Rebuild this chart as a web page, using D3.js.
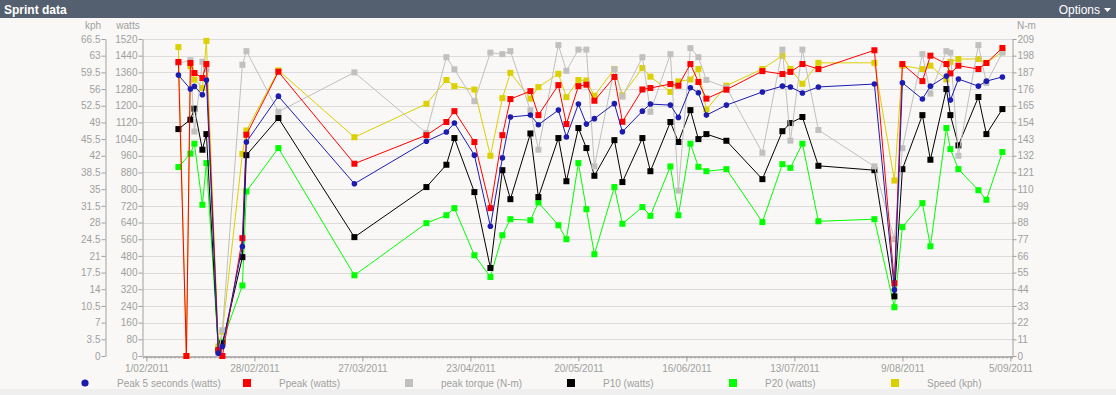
<!DOCTYPE html>
<html>
<head>
<meta charset="utf-8">
<script src="https://cdn.jsdelivr.net/npm/d3@7"></script>
<style>
  body { margin: 0; background: #f9f8f6; overflow: hidden; }
</style>
</head>
<body>
<div id="chart"></div>
<script>
// ############################################################################
// Sprint data                                                     Line chart
// ############################################################################

// ============================================================================
// Data
// ============================================================================

const dates = [
  "2011-02-09", "2011-02-11", "2011-02-12", "2011-02-13", "2011-02-15",
  "2011-02-16", "2011-02-19", "2011-02-20", "2011-02-25", "2011-02-26",
  "2011-03-06", "2011-03-25", "2011-04-12", "2011-04-17", "2011-04-19",
  "2011-04-24", "2011-04-28", "2011-05-01", "2011-05-03", "2011-05-08",
  "2011-05-10", "2011-05-15", "2011-05-17", "2011-05-20", "2011-05-22",
  "2011-05-24", "2011-05-29", "2011-05-31", "2011-06-05", "2011-06-07",
  "2011-06-12", "2011-06-14", "2011-06-17", "2011-06-19", "2011-06-21",
  "2011-06-26", "2011-07-05", "2011-07-10", "2011-07-12", "2011-07-15",
  "2011-07-19", "2011-08-02", "2011-08-07", "2011-08-09", "2011-08-14",
  "2011-08-16", "2011-08-20", "2011-08-21", "2011-08-23", "2011-08-28",
  "2011-08-30", "2011-09-03"
]

// watts
const peak5 = [
  1347, null, 1280, 1293, 1253, 1323, 13, 45, 525, 1026,
  1246, 826, 1030, 1074, 1117, 963, 622, 950, 1146, 1155,
  1109, 1179, 1050, 1208, 1112, 1138, 1210, 1075, 1174, 1208,
  1203, 1144, 1286, 1262, 1155, 1203, 1266, 1294, 1290, 1261,
  1290, 1304, 317, 1310, 1232, 1294, 1342, 1227, 1328, 1294,
  1318, 1338
]

// watts
const ppeak = [
  1410, 0, 1405, 1357, 1333, 1400, 29, 0, 565, 1061,
  1363, 922, 1059, 1122, 1174, 1026, 709, 1059, 1232, 1270,
  1155, 1299, 1112, 1294, 1301, 1224, 1338, 1123, 1278, 1285,
  1304, 1296, 1400, 1314, 1234, 1277, 1366, 1352, 1362, 1400,
  1376, 1466, 349, 1400, 1318, 1440, 1400, 1355, 1392, 1376,
  1405, 1477
]

// N-m
const peakTorque = [
  193, null, 195, 148, 194, 189, 1, 17, 192, 201,
  161, 187, 147, 197, 189, 168, 200, 199, 201, 162,
  136, 205, 188, 202, 202, 125, 189, 171, 197, 161,
  199, 109, 203, 197, 182, 177, 134, 202, 142, 202,
  149, 125, 77, 137, 199, 173, 201, 200, 132, 205,
  180, 200
]

// watts
const p10 = [
  1088, null, 1133, 1186, 989, 1064, 21, 61, 474, 963,
  1141, 570, 810, 917, 1045, 786, 422, 891, 752, 1067,
  762, 1045, 838, 1093, 997, 864, 1035, 834, 1045, 886,
  1122, 1026, 1179, 1040, 1064, 1032, 848, 1078, 1117, 1146,
  912, 891, 286, 896, 1155, 941, 1280, 1155, 1010, 1242,
  1064, 1184
]

// watts
const p20 = [
  906, null, 970, 1018, 725, 925, 29, 69, 338, 789,
  997, 387, 637, 675, 709, 483, 379, 579, 656, 651,
  736, 627, 560, 925, 704, 488, 810, 634, 714, 672,
  909, 675, 1018, 907, 886, 896, 642, 920, 902, 1018,
  646, 656, 234, 618, 733, 526, 1093, 992, 896, 795,
  749, 978
]

// kph
const speed = [
  64.8, 0, 60.8, 58.0, 56.2, 66.1, 2.0, 5.1, 42.4, 47.3,
  59.9, 45.9, 52.9, 57.9, 56.6, 55.9, 42.0, 54.1, 59.4, 54.0,
  56.4, 59.2, 54.3, 57.9, 57.8, 54.6, 60.2, 54.7, 60.4, 58.6,
  55.4, 57.6, 58.0, 60.2, 51.7, 56.7, 60.2, 63.0, 60.2, 57.1,
  61.5, 61.5, 36.8, 60.9, 60.2, 60.9, 58.0, 61.7, 62.3, 62.3,
  61.5, 63.8
]

const seriesNames = [
  "Peak 5 seconds (watts)", "Ppeak (watts)", "peak torque (N-m)",
  "P10 (watts)", "P20 (watts)", "Speed (kph)"
]

// Tick labels
const xTickDates = [
  "2011-02-01", "2011-02-28", "2011-03-27", "2011-04-23", "2011-05-20",
  "2011-06-16", "2011-07-13", "2011-08-09", "2011-09-05"
]
const kphTicks = [
  0, 3.5, 7, 10.5, 14, 17.5, 21, 24.5, 28, 31.5,
  35, 38.5, 42, 45.5, 49, 52.5, 56, 59.5, 63, 66.5
]
const wattTicks = [
  0, 80, 160, 240, 320, 400, 480, 560, 640, 720,
  800, 880, 960, 1040, 1120, 1200, 1280, 1360, 1440, 1520
]
const torqueTicks = [
  0, 11, 22, 33, 44, 55, 66, 77, 88, 99,
  110, 121, 132, 143, 154, 165, 176, 187, 198, 209
]


class SprintChart
{
  // ==========================================================================
  // Construct chart
  // ==========================================================================

  constructor(containerId)
  {
    this._width  = 1116
    this._height = 395

    this._plot = { left: 143, right: 1012, top: 39, bottom: 356 }

    this._font = "'Liberation Sans', Arial, sans-serif"
    this._axisColor = "#a0a0a0"

    let parse = d3.timeParse("%Y-%m-%d")
    this._dates = dates.map(parse)
    this._tickDates = xTickDates.map(parse)

    this._setupScales()
    this._setupContainer(containerId)
    this._drawTitleBar()
    this._drawGrid()
    this._drawAxes()
    this._drawSeries()
    this._drawLegend()
  }


  // ==========================================================================
  // Scales
  // ==========================================================================

  _setupScales()
  {
    let p = this._plot

    this._x = d3.scaleTime()
      .domain([new Date(2011, 0, 31, 3, 36), new Date(2011, 8, 5, 9, 36)])
      .range([p.left, p.right])

    this._yWatts = d3.scaleLinear().domain([0, 1520]).range([p.bottom, p.top])
    this._yKph   = d3.scaleLinear().domain([0, 66.5]).range([p.bottom, p.top])
    this._yNm    = d3.scaleLinear().domain([0, 209]).range([p.bottom, p.top])

    this._series = [
      { name: seriesNames[0], values: peak5,      color: "#1c1cb0", y: this._yWatts, symbol: "circle" },
      { name: seriesNames[1], values: ppeak,      color: "#ff0000", y: this._yWatts, symbol: "square" },
      { name: seriesNames[2], values: peakTorque, color: "#c0c0c0", y: this._yNm,    symbol: "square" },
      { name: seriesNames[3], values: p10,        color: "#000000", y: this._yWatts, symbol: "square" },
      { name: seriesNames[4], values: p20,        color: "#00ff00", y: this._yWatts, symbol: "square" },
      { name: seriesNames[5], values: speed,      color: "#dcd000", y: this._yKph,   symbol: "square" }
    ]
  }


  // ==========================================================================
  // Setup container
  // ==========================================================================

  _setupContainer(containerId)
  {
    this._svg = d3.select("#" + containerId)
      .append("svg")
      .attr("width",  this._width)
      .attr("height", this._height)
      .style("display", "block")
      .style("font-family", this._font)
      .style("font-size", "10px")

    this._svg.append("rect")
      .attr("width", this._width)
      .attr("height", this._height)
      .attr("fill", "#f9f8f6")

    // bottom strip
    this._svg.append("rect")
      .attr("y", 389)
      .attr("width", this._width)
      .attr("height", this._height - 389)
      .attr("fill", "#efefef")
  }


  // ==========================================================================
  // Title bar
  // ==========================================================================

  _drawTitleBar()
  {
    this._svg.append("rect")
      .attr("width", this._width)
      .attr("height", 18)
      .attr("fill", "#545f6f")

    this._svg.append("text")
      .attr("x", 4)
      .attr("y", 14)
      .attr("fill", "#ffffff")
      .style("font-size", "12px")
      .style("font-weight", "bold")
      .text("Sprint data")

    this._svg.append("text")
      .attr("x", 1100)
      .attr("y", 14)
      .attr("text-anchor", "end")
      .attr("fill", "#ffffff")
      .style("font-size", "12px")
      .text("Options")

    this._svg.append("path")
      .attr("d", "M1104,8 L1111,8 L1107.5,12 Z")
      .attr("fill", "#ffffff")
  }


  // ==========================================================================
  // Horizontal grid
  // ==========================================================================

  _drawGrid()
  {
    let p = this._plot
    this._svg.append("g")
      .selectAll("line")
      .data(wattTicks.filter(d => d > 0))
      .join("line")
      .attr("x1", p.left)
      .attr("x2", p.right)
      .attr("y1", d => Math.round(this._yWatts(d)) + 0.5)
      .attr("y2", d => Math.round(this._yWatts(d)) + 0.5)
      .attr("stroke", "#dcdcdc")
  }


  // ==========================================================================
  // Axes
  // ==========================================================================

  _styleAxis(g)
  {
    g.attr("color", this._axisColor)
      .attr("font-family", this._font)
      .attr("font-size", 10)
  }

  _drawAxes()
  {
    let p = this._plot
    let fmt = d3.timeFormat("%-d/%m/%Y")

    // minor day ticks
    this._svg.append("g")
      .attr("transform", `translate(0,${p.bottom + 0.5})`)
      .call(d3.axisBottom(this._x).ticks(d3.timeDay.every(1)).tickSize(2).tickFormat(""))
      .call(g => this._styleAxis(g))

    // major ticks
    this._svg.append("g")
      .attr("transform", `translate(0,${p.bottom + 0.5})`)
      .call(d3.axisBottom(this._x)
        .tickValues(this._tickDates)
        .tickFormat(fmt)
        .tickSize(5)
        .tickPadding(3)
        .tickSizeOuter(0))
      .call(g => this._styleAxis(g))

    // kph
    this._svg.append("g")
      .attr("transform", `translate(${105.5},0)`)
      .call(d3.axisLeft(this._yKph)
        .tickValues(kphTicks)
        .tickFormat(d => String(d))
        .tickSize(4)
        .tickPadding(1)
        .tickSizeOuter(0))
      .call(g => this._styleAxis(g))

    // watts
    this._svg.append("g")
      .attr("transform", `translate(${p.left - 0.5},0)`)
      .call(d3.axisLeft(this._yWatts)
        .tickValues(wattTicks)
        .tickFormat(d => String(d))
        .tickSize(4)
        .tickPadding(1)
        .tickSizeOuter(0))
      .call(g => this._styleAxis(g))

    // N-m
    this._svg.append("g")
      .attr("transform", `translate(${p.right + 0.5},0)`)
      .call(d3.axisRight(this._yNm)
        .tickValues(torqueTicks)
        .tickFormat(d => String(d))
        .tickSize(4)
        .tickPadding(1)
        .tickSizeOuter(0))
      .call(g => this._styleAxis(g))

    // Axis titles
    let titles = [
      { text: "kph",   x: 93,   anchor: "middle" },
      { text: "watts", x: 128,  anchor: "middle" },
      { text: "N-m",   x: 1017, anchor: "start" }
    ]
    this._svg.append("g")
      .selectAll("text")
      .data(titles)
      .join("text")
      .attr("x", d => d.x)
      .attr("y", 29)
      .attr("text-anchor", d => d.anchor)
      .attr("fill", this._axisColor)
      .text(d => d.text)
  }


  // ==========================================================================
  // Series lines and markers (last legend entry is painted first)
  // ==========================================================================

  _drawSeries()
  {
    this._series.slice().reverse().forEach(s =>
    {
      let points = this._dates
        .map((date, i) => ({ date: date, value: s.values[i] }))
        .filter(d => d.value !== null)

      let line = d3.line()
        .x(d => this._x(d.date))
        .y(d => s.y(d.value))

      let g = this._svg.append("g")

      g.append("path")
        .datum(points)
        .attr("d", line)
        .attr("fill", "none")
        .attr("stroke", s.color)
        .attr("stroke-width", 1)

      if (s.symbol == "circle")
      {
        g.selectAll("circle")
          .data(points)
          .join("circle")
          .attr("cx", d => this._x(d.date))
          .attr("cy", d => s.y(d.value))
          .attr("r", 2.8)
          .attr("fill", s.color)
      }
      else
      {
        g.selectAll("rect")
          .data(points)
          .join("rect")
          .attr("x", d => this._x(d.date) - 3)
          .attr("y", d => s.y(d.value) - 3)
          .attr("width", 6)
          .attr("height", 6)
          .attr("fill", s.color)
      }
    })
  }


  // ==========================================================================
  // Legend
  // ==========================================================================

  _drawLegend()
  {
    let item = this._svg.append("g")
      .selectAll("g")
      .data(this._series)
      .join("g")
      .attr("transform", (d, i) => `translate(${85 + i * 162},383)`)

    item.filter(d => d.symbol == "circle")
      .append("circle")
      .attr("r", 3.6)
      .attr("fill", d => d.color)

    item.filter(d => d.symbol == "square")
      .append("rect")
      .attr("x", -4)
      .attr("y", -4)
      .attr("width", 8)
      .attr("height", 8)
      .attr("fill", d => d.color)

    item.append("text")
      .attr("x", 32)
      .attr("y", 3.5)
      .attr("fill", this._axisColor)
      .text(d => d.name)
  }
}

new SprintChart("chart")
</script>
</body>
</html>
